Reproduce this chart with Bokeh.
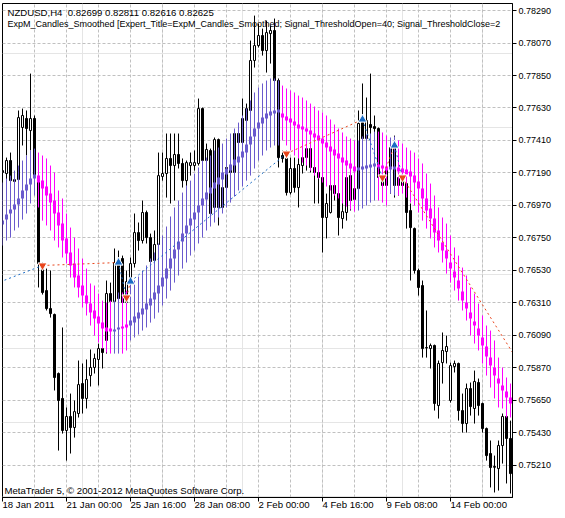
from bokeh.plotting import figure
from bokeh.models import (Range1d, LinearAxis, FixedTicker, PrintfTickFormatter,
                          ColumnDataSource, Grid)
from bokeh.core.properties import value
from bokeh.embed import file_html
from bokeh.resources import INLINE

# ---------------- data ----------------
# NZDUSD H4 candles (bar index 0 = 18 Jan 2011 08:00)
candle_open = [0.77193, 0.77186, 0.77274, 0.77132, 0.77145, 0.77498, 0.77559, 0.77477, 0.77559, 0.77166,
               0.76556, 0.76393, 0.76271, 0.76231, 0.75831, 0.75662, 0.75445, 0.75540, 0.75465, 0.75560,
               0.75763, 0.75662, 0.75817, 0.75872, 0.75926, 0.76000, 0.76055, 0.76373, 0.76319, 0.76583,
               0.76610, 0.76312, 0.76454, 0.76576, 0.76786, 0.76732, 0.76922, 0.76752, 0.76597, 0.76705,
               0.77166, 0.77186, 0.77288, 0.77240, 0.77315, 0.77254, 0.77138, 0.77240, 0.77240, 0.77254,
               0.77626, 0.77274, 0.77342, 0.76956, 0.77416, 0.76956, 0.77091, 0.77240, 0.77193, 0.77457,
               0.77396, 0.77545, 0.77613, 0.77952, 0.78053, 0.78121, 0.78019, 0.78134, 0.78155, 0.77816,
               0.77308, 0.77288, 0.77057, 0.77220, 0.77091, 0.77240, 0.77294, 0.77355, 0.77227, 0.77193,
               0.77159, 0.76888, 0.76922, 0.77105, 0.77050, 0.76881, 0.76922, 0.77172, 0.77010, 0.77084,
               0.77531, 0.77423, 0.77518, 0.77504, 0.77491, 0.77159, 0.77105, 0.77227, 0.77362, 0.77105,
               0.77159, 0.77118, 0.76935, 0.76813, 0.76529, 0.76427, 0.76004, 0.76000, 0.76021, 0.75614,
               0.75905, 0.75980, 0.75648, 0.75878, 0.75899, 0.75580, 0.75492, 0.75729, 0.75594, 0.75770,
               0.75628, 0.75458, 0.75289, 0.75201, 0.75187, 0.75343, 0.75540, 0.75391]
candle_high = [0.77220, 0.77294, 0.77328, 0.77193, 0.77613, 0.77626, 0.77613, 0.77863, 0.77579, 0.77172,
               0.76583, 0.76542, 0.76529, 0.76237, 0.75838, 0.76143, 0.75601, 0.75695, 0.75648, 0.75919,
               0.75899, 0.75926, 0.75994, 0.75966, 0.76034, 0.76237, 0.76461, 0.76447, 0.76678, 0.76664,
               0.76630, 0.76529, 0.76617, 0.76915, 0.76854, 0.77003, 0.76935, 0.76779, 0.76800, 0.77328,
               0.77328, 0.77457, 0.77457, 0.77457, 0.77457, 0.77288, 0.77274, 0.77328, 0.77342, 0.77694,
               0.77633, 0.77389, 0.77355, 0.77430, 0.77423, 0.77105, 0.77362, 0.77321, 0.77477, 0.77525,
               0.77694, 0.77660, 0.78087, 0.78256, 0.78202, 0.78168, 0.78222, 0.78189, 0.78236, 0.77830,
               0.77342, 0.77342, 0.77294, 0.77294, 0.77308, 0.77355, 0.77362, 0.77410, 0.77308, 0.77260,
               0.77172, 0.77050, 0.77118, 0.77118, 0.77057, 0.77003, 0.77186, 0.77186, 0.77172, 0.77613,
               0.77796, 0.77701, 0.77863, 0.77579, 0.77498, 0.77206, 0.77274, 0.77389, 0.77443, 0.77206,
               0.77193, 0.77132, 0.76983, 0.76820, 0.76542, 0.76461, 0.76258, 0.76034, 0.76027, 0.75919,
               0.76109, 0.76088, 0.75905, 0.75919, 0.75905, 0.75695, 0.75763, 0.75770, 0.75851, 0.75797,
               0.75634, 0.75465, 0.75377, 0.75275, 0.75377, 0.75560, 0.75546, 0.75512]
candle_low = [0.77152, 0.77091, 0.77091, 0.77118, 0.77138, 0.77376, 0.77308, 0.77342, 0.77152, 0.76414,
              0.76366, 0.76258, 0.76210, 0.75716, 0.75309, 0.75424, 0.75241, 0.75289, 0.75397, 0.75533,
              0.75560, 0.75594, 0.75743, 0.75831, 0.75750, 0.75865, 0.75966, 0.76292, 0.76285, 0.76325,
              0.76292, 0.76292, 0.76441, 0.76549, 0.76664, 0.76712, 0.76712, 0.76576, 0.76481, 0.76549,
              0.77138, 0.77023, 0.76983, 0.77003, 0.77220, 0.77091, 0.77037, 0.77172, 0.77206, 0.77240,
              0.77240, 0.77254, 0.76881, 0.76915, 0.76834, 0.76935, 0.77071, 0.77125, 0.77186, 0.77342,
              0.77389, 0.77491, 0.77592, 0.77904, 0.78040, 0.77985, 0.77870, 0.77931, 0.77796, 0.77227,
              0.77260, 0.77037, 0.77044, 0.77057, 0.76956, 0.77186, 0.77206, 0.77193, 0.76983, 0.76983,
              0.76651, 0.76746, 0.76915, 0.77003, 0.76766, 0.76813, 0.76867, 0.76935, 0.77003, 0.77071,
              0.77410, 0.77410, 0.77342, 0.77443, 0.77050, 0.77037, 0.77071, 0.77050, 0.77023, 0.77037,
              0.77071, 0.76813, 0.76461, 0.76508, 0.76359, 0.75939, 0.75939, 0.75865, 0.75580, 0.75526,
              0.75763, 0.75899, 0.75634, 0.75838, 0.75512, 0.75431, 0.75431, 0.75546, 0.75492, 0.75546,
              0.75431, 0.75241, 0.75059, 0.75025, 0.75038, 0.75221, 0.75086, 0.75018]
candle_close = [0.77206, 0.77274, 0.77138, 0.77145, 0.77565, 0.77579, 0.77491, 0.77559, 0.77172, 0.76576,
                0.76380, 0.76271, 0.76237, 0.75804, 0.75648, 0.75445, 0.75540, 0.75465, 0.75573, 0.75756,
                0.75662, 0.75790, 0.75872, 0.75933, 0.76000, 0.75973, 0.76373, 0.76319, 0.76583, 0.76339,
                0.76312, 0.76454, 0.76576, 0.76786, 0.76732, 0.76922, 0.76752, 0.76590, 0.76705, 0.77172,
                0.77186, 0.77288, 0.77240, 0.77315, 0.77254, 0.77138, 0.77260, 0.77260, 0.77260, 0.77626,
                0.77274, 0.77349, 0.76915, 0.77416, 0.76956, 0.77091, 0.77227, 0.77193, 0.77457, 0.77396,
                0.77559, 0.77626, 0.77952, 0.78053, 0.78121, 0.78019, 0.78141, 0.78155, 0.77816, 0.77294,
                0.77288, 0.77057, 0.77220, 0.77091, 0.77247, 0.77294, 0.77355, 0.77227, 0.77193, 0.77159,
                0.76888, 0.76983, 0.77105, 0.77050, 0.76888, 0.76928, 0.77159, 0.77003, 0.77084, 0.77525,
                0.77423, 0.77545, 0.77498, 0.77491, 0.77159, 0.77105, 0.77227, 0.77362, 0.77105, 0.77159,
                0.77105, 0.76922, 0.76820, 0.76529, 0.76414, 0.76000, 0.76007, 0.76021, 0.75628, 0.75899,
                0.75987, 0.76014, 0.75885, 0.75899, 0.75580, 0.75492, 0.75729, 0.75607, 0.75777, 0.75614,
                0.75458, 0.75275, 0.75194, 0.75196, 0.75343, 0.75540, 0.75391, 0.75153]

# ExpM_Candles_Smoothed indicator (smoothed candles)
smooth_open = [0.76840, 0.76874, 0.76915, 0.76942, 0.76976, 0.77017, 0.77071, 0.77111, 0.77152, 0.77172,
               0.77138, 0.77098, 0.77050, 0.77003, 0.76922, 0.76847, 0.76746, 0.76651, 0.76576, 0.76495,
               0.76427, 0.76359, 0.76305, 0.76258, 0.76217, 0.76176, 0.76143, 0.76136, 0.76115, 0.76129,
               0.76149, 0.76163, 0.76156, 0.76176, 0.76203, 0.76231, 0.76265, 0.76292, 0.76332, 0.76373,
               0.76420, 0.76475, 0.76542, 0.76610, 0.76671, 0.76725, 0.76779, 0.76834, 0.76874, 0.76922,
               0.76969, 0.77010, 0.77050, 0.77084, 0.77111, 0.77145, 0.77179, 0.77206, 0.77240, 0.77260,
               0.77294, 0.77328, 0.77382, 0.77437, 0.77491, 0.77525, 0.77559, 0.77579, 0.77592, 0.77599,
               0.77592, 0.77572, 0.77559, 0.77538, 0.77518, 0.77504, 0.77491, 0.77477, 0.77457, 0.77443,
               0.77423, 0.77396, 0.77369, 0.77349, 0.77321, 0.77294, 0.77274, 0.77254, 0.77233, 0.77206,
               0.77213, 0.77220, 0.77227, 0.77233, 0.77247, 0.77240, 0.77233, 0.77213, 0.77213, 0.77227,
               0.77220, 0.77213, 0.77200, 0.77172, 0.77132, 0.77084, 0.77017, 0.76949, 0.76881, 0.76800,
               0.76718, 0.76664, 0.76583, 0.76522, 0.76461, 0.76386, 0.76312, 0.76244, 0.76183, 0.76136,
               0.76075, 0.76014, 0.75939, 0.75872, 0.75797, 0.75750, 0.75709, 0.75668]
smooth_high = [0.77125, 0.77152, 0.77172, 0.77206, 0.77240, 0.77274, 0.77308, 0.77342, 0.77355, 0.77328,
               0.77308, 0.77288, 0.77240, 0.77193, 0.77071, 0.77017, 0.76915, 0.76820, 0.76752, 0.76678,
               0.76610, 0.76542, 0.76441, 0.76427, 0.76373, 0.76325, 0.76312, 0.76325, 0.76325, 0.76380,
               0.76380, 0.76393, 0.76441, 0.76461, 0.76488, 0.76529, 0.76563, 0.76610, 0.76651, 0.76712,
               0.76766, 0.76827, 0.76895, 0.76956, 0.77003, 0.77057, 0.77105, 0.77138, 0.77186, 0.77227,
               0.77274, 0.77294, 0.77308, 0.77342, 0.77362, 0.77389, 0.77423, 0.77457, 0.77491, 0.77531,
               0.77579, 0.77626, 0.77681, 0.77735, 0.77769, 0.77796, 0.77816, 0.77830, 0.77830, 0.77816,
               0.77782, 0.77762, 0.77748, 0.77735, 0.77714, 0.77701, 0.77681, 0.77660, 0.77640, 0.77613,
               0.77599, 0.77579, 0.77552, 0.77518, 0.77491, 0.77464, 0.77437, 0.77423, 0.77410, 0.77410,
               0.77437, 0.77450, 0.77457, 0.77470, 0.77470, 0.77464, 0.77443, 0.77430, 0.77437, 0.77410,
               0.77389, 0.77362, 0.77342, 0.77328, 0.77288, 0.77254, 0.77186, 0.77118, 0.77037, 0.76956,
               0.76888, 0.76847, 0.76766, 0.76685, 0.76630, 0.76549, 0.76495, 0.76414, 0.76373, 0.76305,
               0.76224, 0.76156, 0.76122, 0.76055, 0.75939, 0.75872, 0.75804, 0.75763]
smooth_low = [0.76698, 0.76732, 0.76752, 0.76800, 0.76820, 0.76874, 0.76915, 0.76983, 0.77037, 0.76956,
              0.76867, 0.76834, 0.76800, 0.76732, 0.76685, 0.76617, 0.76576, 0.76481, 0.76414, 0.76346,
              0.76278, 0.76224, 0.76156, 0.76088, 0.76041, 0.76000, 0.75973, 0.75966, 0.75966, 0.75966,
              0.75966, 0.75987, 0.76055, 0.76075, 0.76095, 0.76122, 0.76143, 0.76176, 0.76203, 0.76244,
              0.76292, 0.76339, 0.76393, 0.76447, 0.76495, 0.76542, 0.76583, 0.76630, 0.76664, 0.76712,
              0.76752, 0.76800, 0.76827, 0.76854, 0.76888, 0.76915, 0.76956, 0.76989, 0.77030, 0.77071,
              0.77098, 0.77138, 0.77172, 0.77220, 0.77274, 0.77308, 0.77342, 0.77362, 0.77376, 0.77376,
              0.77410, 0.77376, 0.77342, 0.77308, 0.77288, 0.77260, 0.77240, 0.77206, 0.77172, 0.77152,
              0.77125, 0.77098, 0.77071, 0.77037, 0.77017, 0.76983, 0.76962, 0.76942, 0.76928, 0.76935,
              0.76949, 0.76969, 0.76989, 0.77003, 0.77003, 0.76989, 0.76969, 0.77050, 0.77037, 0.77037,
              0.77050, 0.77023, 0.76989, 0.76969, 0.76922, 0.76867, 0.76813, 0.76746, 0.76685, 0.76651,
              0.76583, 0.76508, 0.76447, 0.76393, 0.76325, 0.76258, 0.76190, 0.76088, 0.76034, 0.75987,
              0.75899, 0.75817, 0.75736, 0.75662, 0.75601, 0.75594, 0.75533, 0.75533]
smooth_close = [0.76867, 0.76908, 0.76942, 0.76976, 0.77017, 0.77071, 0.77111, 0.77152, 0.77179, 0.77125,
                0.77084, 0.77037, 0.76989, 0.76915, 0.76834, 0.76732, 0.76644, 0.76563, 0.76481, 0.76414,
                0.76359, 0.76305, 0.76244, 0.76203, 0.76170, 0.76136, 0.76115, 0.76115, 0.76129, 0.76143,
                0.76136, 0.76143, 0.76190, 0.76217, 0.76244, 0.76271, 0.76305, 0.76339, 0.76380, 0.76427,
                0.76481, 0.76542, 0.76610, 0.76671, 0.76725, 0.76779, 0.76834, 0.76881, 0.76922, 0.76969,
                0.77017, 0.77057, 0.77091, 0.77125, 0.77159, 0.77193, 0.77220, 0.77247, 0.77281, 0.77301,
                0.77335, 0.77382, 0.77437, 0.77491, 0.77531, 0.77565, 0.77592, 0.77606, 0.77613, 0.77620,
                0.77565, 0.77545, 0.77531, 0.77511, 0.77491, 0.77484, 0.77470, 0.77450, 0.77430, 0.77410,
                0.77389, 0.77362, 0.77335, 0.77308, 0.77288, 0.77260, 0.77240, 0.77220, 0.77200, 0.77227,
                0.77233, 0.77240, 0.77247, 0.77254, 0.77227, 0.77220, 0.77206, 0.77233, 0.77233, 0.77200,
                0.77193, 0.77179, 0.77166, 0.77125, 0.77084, 0.77017, 0.76935, 0.76881, 0.76786, 0.76732,
                0.76664, 0.76610, 0.76542, 0.76481, 0.76407, 0.76325, 0.76271, 0.76203, 0.76156, 0.76088,
                0.76021, 0.75946, 0.75885, 0.75817, 0.75763, 0.75716, 0.75668, 0.75628]

# Expert deals (bar index, price, direction)
deal_bar = [10, 29, 31, 32, 71, 90, 95, 98, 100]
deal_price = [0.76563, 0.76583, 0.76346, 0.76454, 0.77321, 0.77552, 0.77159, 0.77376, 0.77159]
deal_type = ["sell", "buy", "sell", "buy", "sell", "buy", "sell", "buy", "sell"]

# Positions drawn as dashed lines (open -> close)
pos_open_bar = [-10, 10, 29, 31, 32, 71, 90, 95, 98, 100]
pos_open_price = [0.76353, 0.76563, 0.76583, 0.76346, 0.76454, 0.77321, 0.77552, 0.77159, 0.77376, 0.77159]
pos_close_bar = [10, 29, 31, 32, 71, 90, 95, 98, 100, 140]
pos_close_price = [0.76563, 0.76583, 0.76346, 0.76454, 0.77321, 0.77552, 0.77159, 0.77376, 0.77159, 0.75435]
pos_type = ["buy", "sell", "buy", "sell", "buy", "sell", "buy", "sell", "buy", "sell"]

date_ticks = [0, 16, 32, 48, 64, 80, 96, 112]
date_labels = ["18 Jan 2011", "21 Jan 00:00", "25 Jan 16:00", "28 Jan 08:00",
               "2 Feb 00:00", "4 Feb 16:00", "9 Feb 08:00", "14 Feb 00:00"]
price_ticks = [0.75210, 0.75430, 0.75650, 0.75870, 0.76090, 0.76310, 0.76530, 0.76750,
               0.76970, 0.77190, 0.77410, 0.77630, 0.77850, 0.78070, 0.78290]

title_line1 = "NZDUSD,H4 \u00a00.82699 0.82811 0.82616 0.82625"
title_line2 = ("ExpM_Candles_Smoothed [Expert_Title=ExpM_Candles_Smoothed; "
               "Signal_ThresholdOpen=40; Signal_ThresholdClose=2")
footer = "MetaTrader 5, \u00a9 2001-2012 MetaQuotes Software Corp."

# ---------------- layout ----------------
W, H = 565, 518
FL, FT, FR, FB = 2, 3, 512, 497          # frame edges in page pixels
X0, X1 = 0.0, 127.5                     # bar range (4 px per bar)
Y0, Y1 = 0.74991, 0.78338               # price range

FONT = "Liberation Sans"
FSIZE = "9px"
FSIZE_BIG = "9.6px"
BLUE_IND = "#6A5ACD"
MAG_IND = "#FF00FF"
BUY_COL = "#1A6BC4"
SELL_COL = "#E8451C"
GRID_COL = "#C0C0C0"

def px_to_x(px):
    return X0 + (px - FL) * (X1 - X0) / (FR - FL)

def px_to_y(py):
    return Y1 - (py - FT) * (Y1 - Y0) / (FB - FT)

p = figure(width=W, height=H, output_backend="svg", toolbar_location=None,
           x_range=Range1d(X0, X1), y_range=Range1d(Y0, Y1),
           x_axis_location=None, y_axis_location=None,
           min_border_left=FL, min_border_top=FT,
           min_border_right=W - FR, min_border_bottom=H - FB)
p.background_fill_color = "white"
p.border_fill_color = "white"
p.outline_line_color = "black"
p.outline_line_width = 1
p.outline_line_alpha = 1.0

# grids
xgrid = Grid(dimension=0, ticker=FixedTicker(ticks=list(range(8, 128, 8))),
             grid_line_color=GRID_COL, grid_line_dash="3 2", grid_line_width=1)
ygrid = Grid(dimension=1, ticker=FixedTicker(ticks=price_ticks),
             grid_line_color=GRID_COL, grid_line_dash="3 2", grid_line_width=1)
p.add_layout(xgrid)
p.add_layout(ygrid)

# axes
yaxis = LinearAxis(ticker=FixedTicker(ticks=price_ticks),
                   formatter=PrintfTickFormatter(format="%.5f"),
                   major_tick_out=4, major_tick_in=0, minor_tick_out=0, minor_tick_in=0,
                   axis_line_color="black", major_tick_line_color="black",
                   major_label_standoff=2,
                   major_label_text_font=FONT, major_label_text_font_size=FSIZE,
                   major_label_text_color="black")
p.add_layout(yaxis, "right")

# a tiny clockwise angle makes the date labels start at their tick, as in the terminal
xaxis = LinearAxis(ticker=FixedTicker(ticks=date_ticks),
                   major_label_overrides={t: l for t, l in zip(date_ticks, date_labels)},
                   major_label_orientation=-0.0001,
                   major_tick_out=4, major_tick_in=0, minor_tick_out=0, minor_tick_in=0,
                   axis_line_color="black", major_tick_line_color="black",
                   major_label_standoff=3,
                   major_label_text_font=FONT, major_label_text_font_size=FSIZE_BIG,
                   major_label_text_color="black")
p.add_layout(xaxis, "below")

# candles
n = len(candle_open)
bars = list(range(n))
csrc = ColumnDataSource(dict(
    x=bars, high=candle_high, low=candle_low,
    top=[max(o, c) for o, c in zip(candle_open, candle_close)],
    bottom=[min(o, c) for o, c in zip(candle_open, candle_close)],
    fill=["white" if c >= o else "black" for o, c in zip(candle_open, candle_close)],
))
p.segment(x0="x", y0="high", x1="x", y1="low", source=csrc, line_color="black", line_width=1)
p.vbar(x="x", width=0.5, top="top", bottom="bottom", source=csrc,
       fill_color="fill", line_color="black", line_width=1)

# smoothed candles indicator
isrc = ColumnDataSource(dict(
    x=bars, high=smooth_high, low=smooth_low,
    top=[max(o, c) for o, c in zip(smooth_open, smooth_close)],
    bottom=[min(o, c) for o, c in zip(smooth_open, smooth_close)],
    col=[BLUE_IND if c >= o else MAG_IND for o, c in zip(smooth_open, smooth_close)],
))
p.segment(x0="x", y0="high", x1="x", y1="low", source=isrc, line_color="col", line_width=1)
p.vbar(x="x", width=0.75, top="top", bottom="bottom", source=isrc,
       fill_color="col", line_color=None)

# position lines
psrc = ColumnDataSource(dict(
    x0=pos_open_bar, y0=pos_open_price, x1=pos_close_bar, y1=pos_close_price,
    col=[BUY_COL if t == "buy" else SELL_COL for t in pos_type],
))
p.segment(x0="x0", y0="y0", x1="x1", y1="y1", source=psrc,
          line_color="col", line_width=1, line_dash="2 3")

# deal arrows
buy_x = [b for b, t in zip(deal_bar, deal_type) if t == "buy"]
buy_y = [v for v, t in zip(deal_price, deal_type) if t == "buy"]
sell_x = [b for b, t in zip(deal_bar, deal_type) if t == "sell"]
sell_y = [v for v, t in zip(deal_price, deal_type) if t == "sell"]
p.scatter(x=buy_x, y=buy_y, marker="triangle", size=9,
          fill_color=BUY_COL, line_color="white", line_width=1)
p.scatter(x=sell_x, y=sell_y, marker="inverted_triangle", size=9,
          fill_color=SELL_COL, line_color="white", line_width=1)

# chart texts inside the frame
p.text(x=[px_to_x(7), px_to_x(4)], y=[px_to_y(11.5), px_to_y(489.5)],
       text=[title_line1, footer],
       text_font=value(FONT), text_font_size=value(FSIZE_BIG),
       text_color="black", text_baseline="middle", text_align="left")
p.text(x=[px_to_x(7)], y=[px_to_y(23.5)], text=[title_line2],
       text_font=value(FONT), text_font_size=value(FSIZE),
       text_color="black", text_baseline="middle", text_align="left")

open("out.html", "w").write(file_html(p, INLINE))
